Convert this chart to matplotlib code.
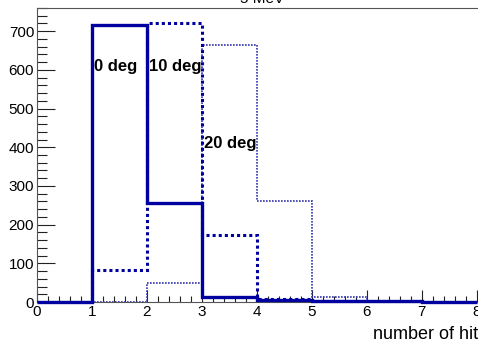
import numpy as np
import matplotlib.pyplot as plt
from matplotlib.ticker import MultipleLocator

plt.rcParams['font.family'] = ['Liberation Sans', 'DejaVu Sans']

# bin edges and contents (number of hits)
edges = [0, 1, 2, 3, 4, 5, 6, 7, 8]
deg0 = [0, 715, 255, 13, 5, 3, 2, 1]
deg10 = [0, 82, 722, 173, 8, 2, 1, 0]
deg20 = [0, 0, 50, 665, 262, 12, 2, 1]

W, H = 478, 344
fig = plt.figure(figsize=(W / 100, H / 100), dpi=100)
ax = fig.add_axes([37 / W, 42 / H, 441 / W, 294 / H])

col = '#0000a0'
ax.stairs(deg20, edges, color='#3333b0', lw=1.2, ls=(0, (1, 0.8)),
          baseline=None, zorder=3)
ax.stairs(deg10, edges, color=col, lw=2.2, ls=(0, (1, 1)),
          baseline=None, zorder=3)
ax.stairs(deg0, edges, color=col, lw=2.4, baseline=None, zorder=4,
          clip_on=False)

ax.set_xlim(0, 8.02)
ax.set_ylim(0, 760)

ax.xaxis.set_major_locator(MultipleLocator(1))
ax.xaxis.set_minor_locator(MultipleLocator(0.2))
ax.yaxis.set_major_locator(MultipleLocator(100))
ax.yaxis.set_minor_locator(MultipleLocator(20))
ax.tick_params(which='both', direction='in', top=False, right=False,
               labelsize=11, width=0.8, pad=2, color='#222222')
ax.tick_params(axis='x', which='major', length=9)
ax.tick_params(axis='x', which='minor', length=4.5)
ax.tick_params(axis='y', which='major', length=13)
ax.tick_params(axis='y', which='minor', length=7)
for s in ax.spines.values():
    s.set_color('#555555')
ax.spines['right'].set_visible(False)

ax.set_xlabel('number of hit', fontsize=13, loc='right', labelpad=5)

ax.text(1.04, 610, '0 deg', fontsize=12, fontweight='bold', va='center')
ax.text(2.04, 610, '10 deg', fontsize=12, fontweight='bold', va='center')
ax.text(3.04, 410, '20 deg', fontsize=12, fontweight='bold', va='center')

fig.text(262 / W, 1 + 1 / H, '5 MeV', fontsize=11, ha='center', va='center')

fig.savefig('out.png', dpi=100)
